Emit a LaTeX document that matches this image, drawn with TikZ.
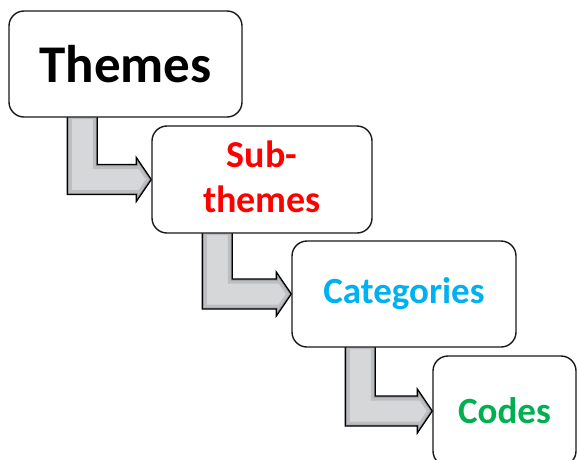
\documentclass[tikz,border=0pt]{standalone}
\usepackage{fontspec}
\setmainfont{Carlito}
\usetikzlibrary{calc}
\pgfdeclarelayer{bg}
\pgfsetlayers{bg,main}
\definecolor{subred}{HTML}{FF0000}
\definecolor{catblue}{HTML}{00B0F0}
\definecolor{codegreen}{HTML}{00B050}
\definecolor{arrlight}{HTML}{D6D7D9}
\definecolor{arrmid}{HTML}{BDBEC1}
\definecolor{arrdark}{HTML}{9A9B9F}
\tikzset{
  stagebox/.style={draw=black!90, line width=1.4pt, fill=white, rounded corners=15pt,
    inner sep=0pt, align=center, font=\bfseries},
}
% path of a bent arrow from node #1 (shaft offset #3 from its left side) to node #2
\newcommand\bentp[4]{#4 ($(#1.south west)+(#3,-3)$) -- ++(30,0) |- ($(#2.west)+(-15,-15)$) -- ++(0,-7) -- (#2.west) -- ($(#2.west)+(-15,22)$) -- ++(0,-7) -| ($(#1.south west)+(#3,-3)$) -- cycle;}
\newcommand\drawbent[3]{%
  \begin{scope}
    \bentp{#1}{#2}{#3}{\clip}
    \bentp{#1}{#2}{#3}{\fill[arrlight]}
    \bentp{#1}{#2}{#3}{\draw[arrmid, line width=9pt]}
    \bentp{#1}{#2}{#3}{\draw[arrdark, line width=3pt]}
  \end{scope}
  \bentp{#1}{#2}{#3}{\draw[black, line width=1.3pt, line join=miter]}
}
\begin{document}
\begin{tikzpicture}[x=1pt,y=-1pt]
  \useasboundingbox (0,0) rectangle (577,459);
  \clip (0,0) rectangle (577,459);

  \node[stagebox, minimum width=233pt, minimum height=106pt,
        font=\bfseries\fontsize{53}{64}\selectfont] (themes) at (125.5,64) {Themes};
  \node[stagebox, minimum width=220pt, minimum height=107pt, text=subred, text depth=6pt,
        font=\bfseries\fontsize{38}{45}\selectfont] (sub) at (262,179.5) {Sub-\\themes};
  \node[stagebox, minimum width=224pt, minimum height=106pt, text=catblue,
        font=\bfseries\fontsize{37}{44}\selectfont] (cat) at (404,294) {Categories};
  \node[stagebox, minimum width=143pt, minimum height=110pt, text=codegreen,
        font=\bfseries\fontsize{37}{44}\selectfont] (codes) at (504.5,411) {Codes};

  \begin{pgfonlayer}{bg}
    \fill[white] (0,0) rectangle (577,459);
    \drawbent{themes}{sub}{59}
    \drawbent{sub}{cat}{51}
    \drawbent{cat}{codes}{54}
  \end{pgfonlayer}
\end{tikzpicture}
\end{document}
